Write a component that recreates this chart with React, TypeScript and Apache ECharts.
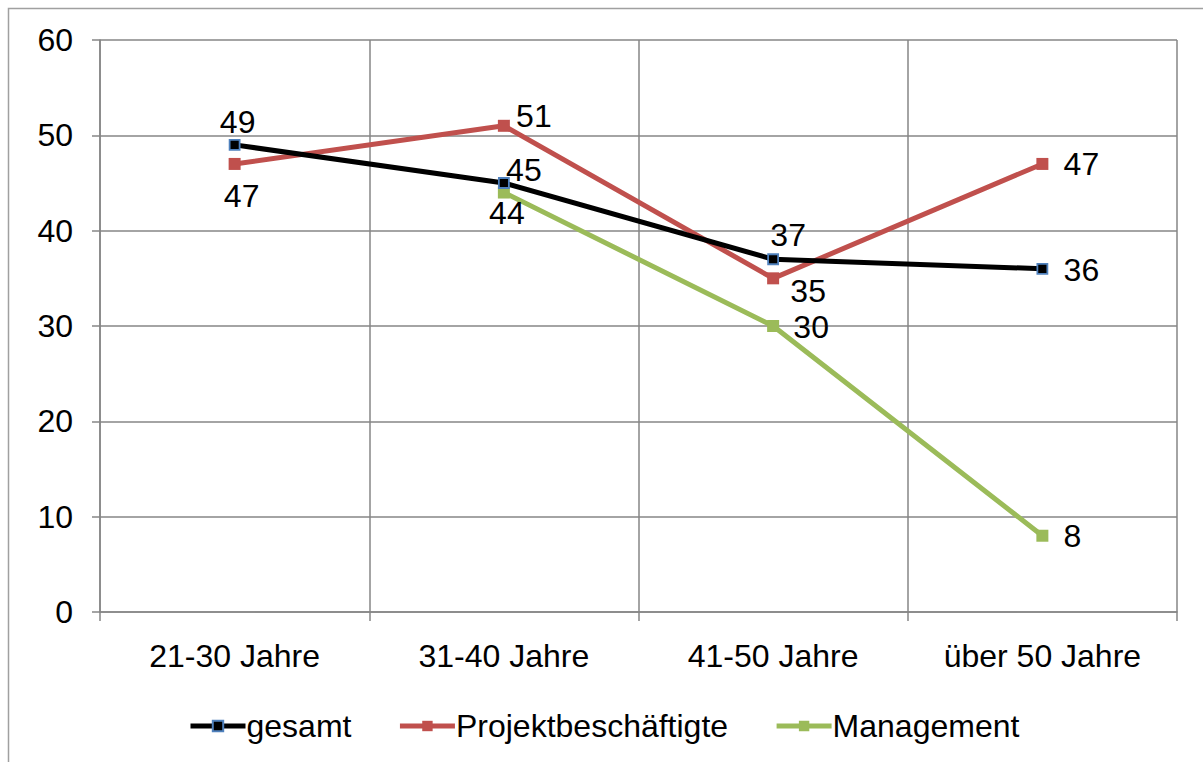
import React, { useEffect, useRef } from "react";
import * as echarts from "echarts";

const categories = ["21-30 Jahre", "31-40 Jahre", "41-50 Jahre", "über 50 Jahre"];
const gesamt = [49, 45, 37, 36];
const projekt = [47, 51, 35, 47];
const management = [null, 44, 30, 8];
const seriesNames = ["gesamt", "Projektbeschäftigte", "Management"];

// label offsets (style only)
const gesamtOffsets = [[3, -23], [20, -13], [15, -24], [39, 1]];
const projektOffsets = [[7, 32], [30, -10], [35, 13], [39, 0]];
const managementOffsets = [[0, 0], [3, 20], [38, 1], [30, 0]];

const FONT = "'Liberation Sans', Arial, sans-serif";
const GRID = "#868686";

function withLabels(values: (number | null)[], offsets: number[][]) {
  return values.map((v, i) => ({
    value: v,
    label: {
      show: v !== null,
      position: "inside",
      offset: offsets[i],
      align: "center",
      verticalAlign: "middle",
      color: "#000",
      fontSize: 32,
      fontFamily: FONT,
    },
  }));
}

export default function App() {
  const ref = useRef<HTMLDivElement>(null);
  useEffect(() => {
    if (!ref.current) return;
    const chart = echarts.init(ref.current, null, { renderer: "svg" });
    chart.setOption({
      animation: false,
      backgroundColor: "#fff",
      textStyle: { fontFamily: FONT },
      graphic: [
        {
          type: "rect",
          shape: { x: 8.5, y: 8.5, width: 1300, height: 900 },
          style: { fill: "none", stroke: "#a0a0a0", lineWidth: 1.5 },
          silent: true,
          z: -10,
        },
      ],
      grid: { left: 100, top: 40, right: 26, bottom: 150, containLabel: false },
      legend: {
        left: 188,
        top: 710,
        padding: 0,
        itemWidth: 55,
        itemHeight: 13,
        itemGap: 46,
        lineStyle: { width: 5 },
        textStyle: { fontSize: 32, fontFamily: FONT, color: "#000", padding: [0, 0, 0, -4] },
        data: seriesNames,
      },
      xAxis: {
        type: "category",
        data: categories,
        boundaryGap: true,
        axisLine: { lineStyle: { color: GRID, width: 1.5 } },
        axisTick: { show: true, length: 9, interval: 0, lineStyle: { color: GRID, width: 1.5 } },
        splitLine: { show: true, interval: 0, lineStyle: { color: GRID, width: 1.5 } },
        axisLabel: { fontSize: 32, fontFamily: FONT, color: "#000", margin: 28, interval: 0 },
      },
      yAxis: {
        type: "value",
        min: 0,
        max: 60,
        interval: 10,
        axisLine: { show: true, lineStyle: { color: GRID, width: 1.5 } },
        axisTick: { show: true, length: 8, lineStyle: { color: GRID, width: 1.5 } },
        splitLine: { show: true, lineStyle: { color: GRID, width: 1.5 } },
        axisLabel: { fontSize: 32, fontFamily: FONT, color: "#000", margin: 27 },
      },
      series: [
        {
          name: seriesNames[0],
          type: "line",
          data: withLabels(gesamt, gesamtOffsets),
          symbol: "rect",
          symbolSize: 10,
          color: "#000",
          itemStyle: { color: "#000", borderColor: "#4F81BD", borderWidth: 1.8 },
          lineStyle: { color: "#000", width: 5 },
          z: 4,
        },
        {
          name: seriesNames[1],
          type: "line",
          data: withLabels(projekt, projektOffsets),
          symbol: "rect",
          symbolSize: 12,
          color: "#C0504D",
          itemStyle: { color: "#C0504D" },
          lineStyle: { color: "#C0504D", width: 5 },
          z: 3,
        },
        {
          name: seriesNames[2],
          type: "line",
          data: withLabels(management, managementOffsets),
          symbol: "rect",
          symbolSize: 12,
          color: "#9BBB59",
          itemStyle: { color: "#9BBB59" },
          lineStyle: { color: "#9BBB59", width: 5 },
          z: 3,
        },
      ],
    });
    return () => chart.dispose();
  }, []);
  return (
    <div
      ref={ref}
      style={{ position: "absolute", left: 0, top: 0, width: 1203, height: 762 }}
    />
  );
}
